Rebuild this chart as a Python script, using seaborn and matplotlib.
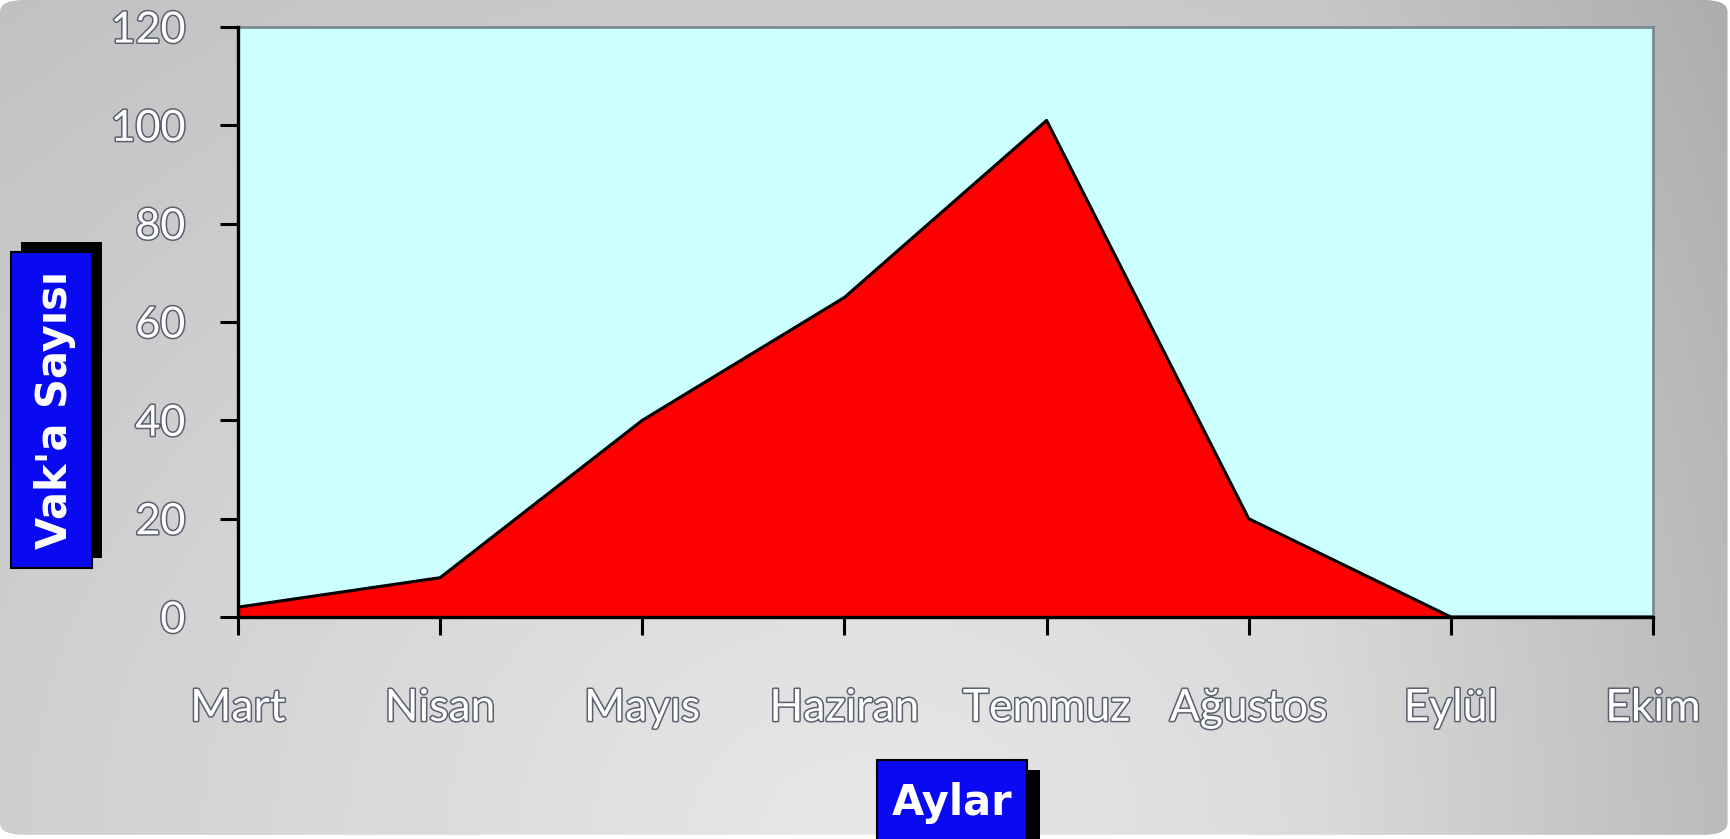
import matplotlib
matplotlib.use("Agg")
import matplotlib.pyplot as plt
import matplotlib.patheffects as pe
from matplotlib.patches import Rectangle, FancyBboxPatch
import numpy as np
import pandas as pd
import seaborn as sns

months = ["Mart", "Nisan", "Mayıs", "Haziran", "Temmuz", "Ağustos", "Eylül", "Ekim"]
cases = [2, 8, 40, 65, 101, 20, 0, 0]
y_ticks = [0, 20, 40, 60, 80, 100, 120]

df = pd.DataFrame({"pos": range(len(months)), "ay": months, "vaka": cases})

W, H = 1731, 839
sns.set_style("white")
plt.rcParams["font.family"] = ["Lato", "DejaVu Sans"]

fig = plt.figure(figsize=(W / 100, H / 100), dpi=100)
fig.patch.set_facecolor("white")

# gray gradient panel behind everything
bg = fig.add_axes([0, 0, 1, 1], zorder=-10)
yy, xx = np.mgrid[0:1:200j, 0:1:400j]
d = np.sqrt(((xx - 0.5) * 1.5) ** 2 + ((yy - 1.0) * 0.9) ** 2)
g = 0.91 - 0.13 * d - 0.08 * np.clip(xx - 0.75, 0, None) / 0.25
g = np.clip(g, 0, 1)
img = np.dstack([g, g, g])
panel = FancyBboxPatch((0, 0.005), 0.998, 0.995, boxstyle="round,pad=0,rounding_size=0.014",
                       transform=bg.transAxes, facecolor="none", edgecolor="none")
bg.add_patch(panel)
im = bg.imshow(img, extent=[0, 1, 0, 1], origin="upper", aspect="auto")
im.set_clip_path(panel)
bg.set_xlim(0, 1)
bg.set_ylim(0, 1)
bg.axis("off")

ax = fig.add_axes([238 / W, 1 - 617 / H, (1653 - 238) / W, (617 - 27) / H])
ax.set_facecolor("#ccffff")
ax.fill_between(df["pos"], df["vaka"], 0, color="#ff0000", zorder=2, linewidth=0)
sns.lineplot(data=df, x="pos", y="vaka", color="black", linewidth=2.2, ax=ax, zorder=3)

ax.set_xlim(0, len(months) - 1)
ax.set_ylim(0, 120)
ax.set_yticks(y_ticks)
ax.set_xticks(df["pos"])
ax.set_xticklabels(months)
ax.set_xlabel("")
ax.set_ylabel("")

for side in ["left", "bottom"]:
    ax.spines[side].set_color("black")
    ax.spines[side].set_linewidth(2.4)
    ax.spines[side].set_zorder(5)
for side in ["top", "right"]:
    ax.spines[side].set_color("#7f8a8a")
    ax.spines[side].set_linewidth(2)

ax.tick_params(axis="both", direction="out", length=13, width=2.2, color="black",
               bottom=True, left=True)
ax.tick_params(axis="y", pad=25, labelsize=31)
ax.tick_params(axis="x", pad=38, labelsize=32)

outline = [pe.withStroke(linewidth=2.2, foreground="#5a6070")]
for lab in ax.get_xticklabels() + ax.get_yticklabels():
    lab.set_color("white")
    lab.set_path_effects(outline)


def label_box(x0, y0, x1, y1, dx, dy, text, rotation, tx=0):
    # pixel coords with origin at top-left
    fx = lambda x: x / W
    fy = lambda y: 1 - y / H
    fig.patches.append(Rectangle((fx(x0 + dx), fy(y1 + dy)), (x1 - x0) / W, (y1 - y0) / H,
                                 transform=fig.transFigure, facecolor="black", edgecolor="none", zorder=1))
    fig.patches.append(Rectangle((fx(x0), fy(y1)), (x1 - x0) / W, (y1 - y0) / H,
                                 transform=fig.transFigure, facecolor="#0a0af2", edgecolor="black",
                                 linewidth=1.5, zorder=2))
    fig.text(fx((x0 + x1) / 2 + tx), fy((y0 + y1) / 2), text, rotation=rotation, color="white",
             fontsize=30, fontweight="bold", family="DejaVu Sans",
             ha="center", va="center", zorder=3)


label_box(11, 252, 92, 568, 10, -10, "Vak'a Sayısı", 90, tx=4)
label_box(877, 760, 1027, 845, 13, 10, "Aylar", 0)

fig.savefig("out.png", dpi=100)
